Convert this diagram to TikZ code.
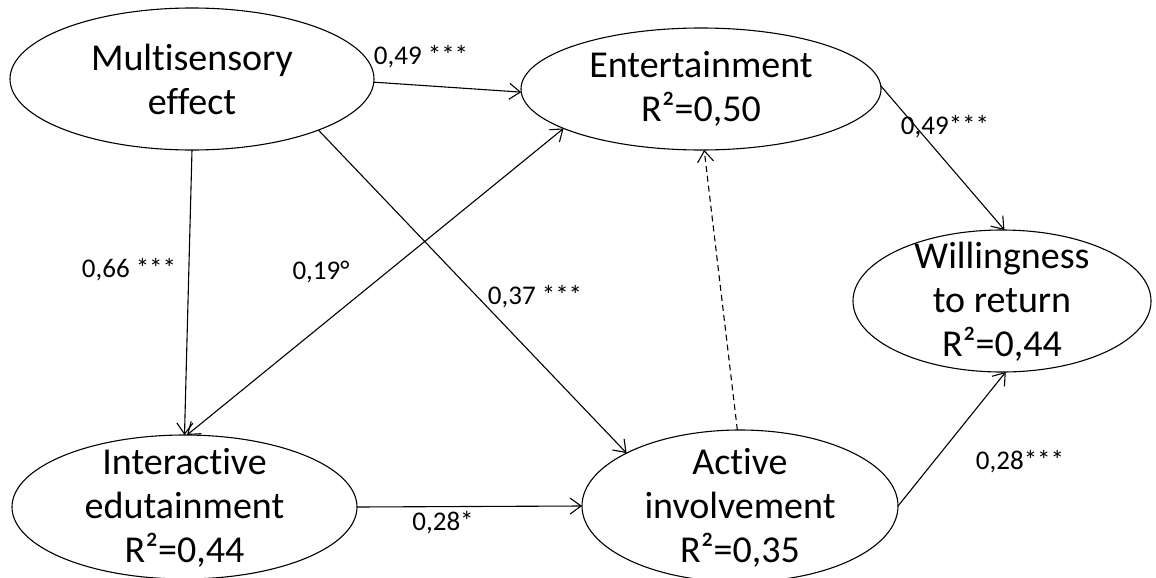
\documentclass[tikz,border=0pt]{standalone}
\usepackage{fontspec}
\setmainfont{Carlito}[Ligatures=NoCommon]
\usetikzlibrary{shapes.geometric,arrows.meta}
\begin{document}
\begin{tikzpicture}[x=1pt,y=1pt,
  latent/.style={ellipse,draw,line width=1.1pt,inner sep=0pt,outer sep=0pt},
  ntext/.style={align=center,inner sep=0pt,font=\fontsize{38}{44}\selectfont},
  link/.style={line width=1.1pt,-{Straight Barb[length=11pt,width=16pt,line width=1.1pt]}},
  blink/.style={line width=1.1pt,{Straight Barb[length=11pt,width=16pt,line width=1.1pt]}-{Straight Barb[length=11pt,width=16pt,line width=1.1pt]}},
  coef/.style={font=\fontsize{27}{30}\selectfont,inner sep=0pt}]
\useasboundingbox (0,0) rectangle (1156,-578);
% latent variables
\node[latent,minimum width=364pt,minimum height=142pt] (ms) at (192,-79) {};
\node[ntext] (mst) at (192,-79) {Multisensory\\effect};
\node[latent,minimum width=360pt,minimum height=122pt] (ent) at (701,-89) {};
\node[ntext] (entt) at (701,-89) {Entertainment\\R²=0,50};
\node[latent,minimum width=298pt,minimum height=142pt] (wr) at (1002,-301) {};
\node[ntext] (wrt) at (1002,-302) {Willingness\\to return\\R²=0,44};
\node[latent,minimum width=345pt,minimum height=144pt] (ie) at (184.5,-507) {};
\node[ntext] (iet) at (184.5,-508) {Interactive\\edutainment\\R²=0,44};
\node[latent,minimum width=316pt,minimum height=152pt] (ai) at (740,-506) {};
\node[ntext] (ait) at (740,-508) {Active\\involvement\\R²=0,35};
% coefficients
\node[coef] (c1) at (421,-57) {0,49 ***};
\node[coef] (c2) at (129,-270) {0,66 ***};
\node[coef] (c3) at (321,-272) {0,19°};
\node[coef] (c4) at (535,-297) {0,37 ***};
\node[coef] (c5) at (945,-127) {0,49***};
\node[coef] (c6) at (443,-523) {0,28*};
\node[coef] (c7) at (1020,-462) {0,28***};
% paths
\draw[link] (ms.-1) -- (ent.181);
\draw[link] (ms.south) -- (ie.north);
\draw[blink] (ie.88) -- (ent.196);
\draw[link] (ms.-22) -- (ai.155);
\draw[link,dash pattern=on 6pt off 4pt] (ai.92) -- (ent.-87);
\draw[link] (ent.1) -- (wr.88);
\draw[link] (ie.east) -- (ai.west);
\draw[link] (ai.east) -- (wr.-87);
\end{tikzpicture}
\end{document}
